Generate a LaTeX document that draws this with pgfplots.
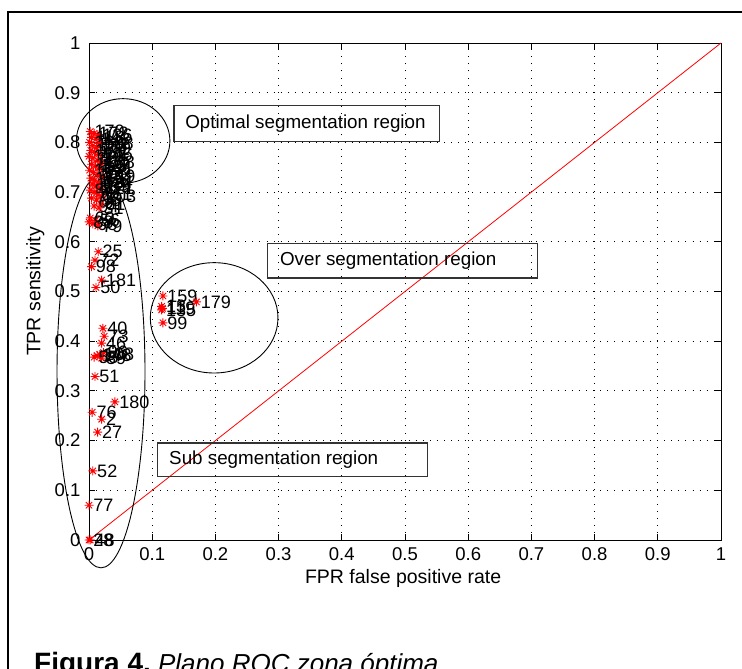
\documentclass[border=0pt]{standalone}
\usepackage{pgfplots}
\pgfplotsset{compat=1.18}
\usepackage{pgfplotstable}
\usepackage{fontspec}
\setmainfont{Liberation Sans}

\pgfdeclareplotmark{mstar}{%
  \pgfpathmoveto{\pgfqpoint{-\pgfplotmarksize}{0pt}}\pgfpathlineto{\pgfqpoint{\pgfplotmarksize}{0pt}}%
  \pgfpathmoveto{\pgfqpoint{0pt}{-\pgfplotmarksize}}\pgfpathlineto{\pgfqpoint{0pt}{\pgfplotmarksize}}%
  \pgfpathmoveto{\pgfqpoint{-.707\pgfplotmarksize}{-.707\pgfplotmarksize}}\pgfpathlineto{\pgfqpoint{.707\pgfplotmarksize}{.707\pgfplotmarksize}}%
  \pgfpathmoveto{\pgfqpoint{-.707\pgfplotmarksize}{.707\pgfplotmarksize}}\pgfpathlineto{\pgfqpoint{.707\pgfplotmarksize}{-.707\pgfplotmarksize}}%
  \pgfusepathqstroke}

\pgfplotstableread{
x y lab
0.002 0.822 170
0.008 0.818 172
0.014 0.815 136
0.004 0.810 118
0.011 0.806 143
0.001 0.800 160
0.016 0.798 128
0.006 0.794 153
0.012 0.789 109
0.003 0.784 177
0.009 0.780 131
0.015 0.776 146
0.000 0.772 122
0.006 0.768 164
0.013 0.764 115
0.018 0.760 138
0.004 0.756 150
0.010 0.752 127
0.016 0.748 141
0.001 0.744 107
0.007 0.740 158
0.013 0.736 133
0.019 0.732 149
0.003 0.728 112
0.009 0.724 166
0.015 0.720 124
0.005 0.716 174
0.011 0.712 139
0.017 0.708 121
0.002 0.704 84
0.008 0.700 92
0.014 0.696 161
0.020 0.692 103
0.004 0.688 71
0.012 0.684 86
0.019 0.676 61
0.008 0.672 94
0.016 0.668 31
0.002 0.648 60
0.010 0.643 56
0.006 0.636 68
0.014 0.632 79
0.000 0.640 88
0.0147 0.580 25
0.0095 0.563 72
0.004 0.550 98
0.020 0.523 181
0.011 0.508 50
0.022 0.426 40
0.024 0.410 73
0.020 0.396 46
0.023 0.377 96
0.017 0.373 108
0.013 0.371 148
0.020 0.366 89
0.008 0.368 55
0.0095 0.329 51
0.041 0.278 180
0.005 0.257 76
0.020 0.243 2
0.0137 0.217 27
0.006 0.139 52
0.000 0.070 77
0.002 0.000 48
0.000 0.000 28
0.117 0.491 159
0.116 0.466 119
0.115 0.470 13
0.115 0.463 135
0.170 0.479 179
0.117 0.437 99
}\ptsdata

\begin{document}
\begin{tikzpicture}[x=1pt,y=1pt]
\useasboundingbox (0,0) rectangle (742,669);
\clip (0,0) rectangle (742,669);
\draw[line width=2.2pt] (8,0) -- (8,657) -- (742,657);
\begin{axis}[
  at={(89pt,129pt)}, anchor=south west,
  scale only axis, width=632pt, height=497pt,
  xmin=0, xmax=1, ymin=0, ymax=1,
  clip=false,
  xtick={0,0.1,0.2,0.3,0.4,0.5,0.6,0.7,0.8,0.9,1},
  ytick={0,0.1,0.2,0.3,0.4,0.5,0.6,0.7,0.8,0.9,1},
  tick align=inside, tick pos=both,
  major tick length=6pt,
  every tick/.style={black, line width=0.8pt},
  axis line style={black, line width=0.8pt},
  grid=major,
  major grid style={black, line width=0.9pt, dash pattern=on 0.9pt off 6.2pt},
  /pgf/number format/assume math mode=true,
  tick label style={font=\fontsize{18.5}{21}\selectfont},
  xticklabel style={yshift=-4pt},
  yticklabel style={xshift=-5pt},
  label style={font=\fontsize{19.5}{22}\selectfont},
  xlabel={FPR false positive rate},
  ylabel={TPR sensitivity},
  xlabel style={at={(axis description cs:0.497,-0.078)}, anchor=center},
  ylabel style={at={(axis description cs:-0.085,0.5)}, anchor=center},
]
\addplot[red, line width=0.8pt] coordinates {(0,0) (1,1)};
\addplot[only marks, mark=mstar, red, mark size=4.5pt, line width=0.9pt,
  nodes near coords, point meta=explicit symbolic,
  nodes near coords style={black, anchor=west, inner sep=0pt, xshift=4pt,
    font=\fontsize{18}{20}\selectfont}]
  table[x=x, y=y, meta=lab] {\ptsdata};

\draw[black, line width=0.9pt] (axis cs:0.054,0.803) ellipse [x radius=0.074, y radius=0.085];
\draw[black, line width=0.9pt] (axis cs:0.019,0.339) ellipse [x radius=0.0696, y radius=0.395];
\draw[black, line width=0.9pt] (axis cs:0.198,0.447) ellipse [x radius=0.101, y radius=0.111];

\draw[black!80, line width=1.2pt] (axis cs:0.1345,0.801) rectangle (axis cs:0.555,0.875);
\node[anchor=west, inner sep=0pt, font=\fontsize{18.8}{21}\selectfont] at (axis cs:0.152,0.838) {Optimal segmentation region};
\draw[black!80, line width=1.2pt] (axis cs:0.283,0.527) rectangle (axis cs:0.710,0.596);
\node[anchor=west, inner sep=0pt, font=\fontsize{18.8}{21}\selectfont] at (axis cs:0.302,0.5615) {Over segmentation region};
\draw[black!80, line width=1.2pt] (axis cs:0.109,0.127) rectangle (axis cs:0.535,0.195);
\node[anchor=west, inner sep=0pt, font=\fontsize{18.8}{21}\selectfont] at (axis cs:0.1266,0.161) {Sub segmentation region};
\end{axis}
\node[anchor=base west, inner sep=0pt] at (34,-3.5) {\fontsize{28}{32}\selectfont\textbf{Figura 4.}\fontsize{26}{30}\selectfont\ \textit{Plano ROC zona óptima}};
\end{tikzpicture}
\end{document}
